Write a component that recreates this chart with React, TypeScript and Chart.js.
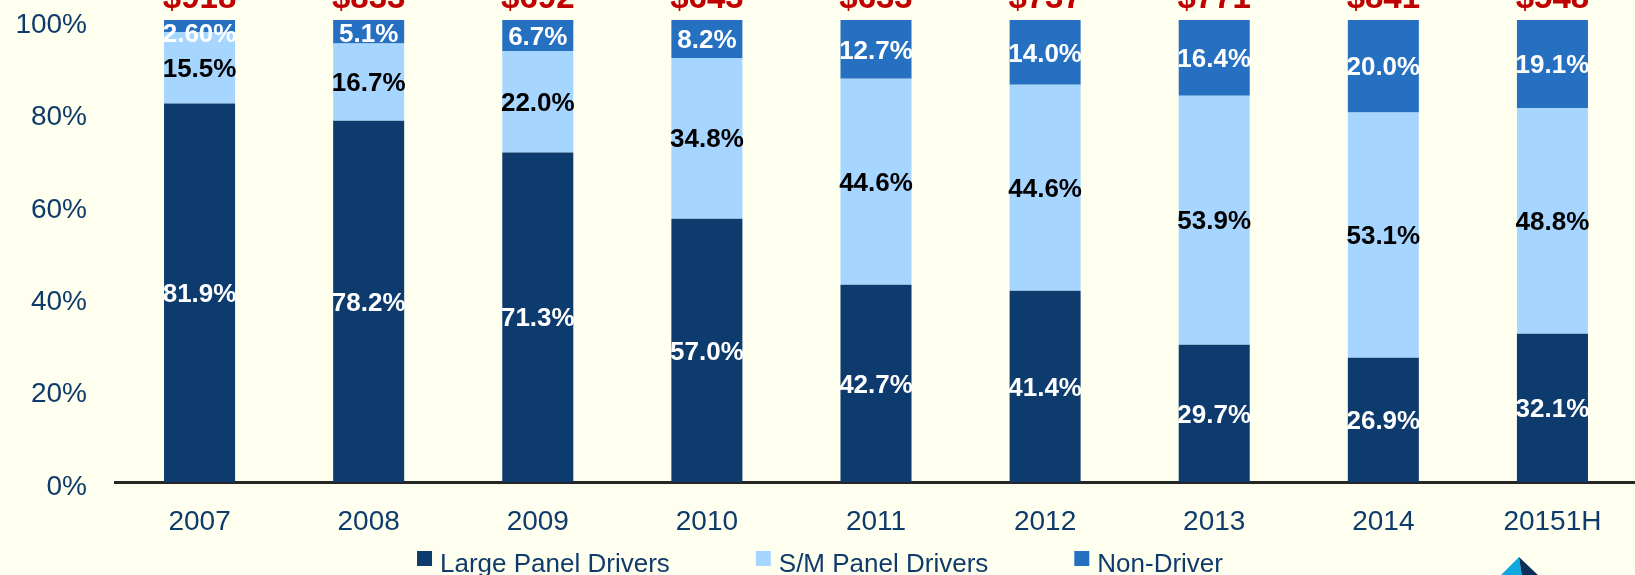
import React, { useEffect, useRef } from 'react';
import { Chart, registerables } from 'chart.js';

Chart.register(...registerables);

// ---- data ----
const categories = ['2007', '2008', '2009', '2010', '2011', '2012', '2013', '2014', '20151H'];
const largePanel = [81.9, 78.2, 71.3, 57.0, 42.7, 41.4, 29.7, 26.9, 32.1];
const smPanel = [15.5, 16.7, 22.0, 34.8, 44.6, 44.6, 53.9, 53.1, 48.8];
const nonDriver = [2.6, 5.1, 6.7, 8.2, 12.7, 14.0, 16.4, 20.0, 19.1];
const nonDriverText = ['2.60%', '5.1%', '6.7%', '8.2%', '12.7%', '14.0%', '16.4%', '20.0%', '19.1%'];
const totals = ['$918', '$833', '$692', '$643', '$633', '$737', '$771', '$841', '$548'];
const seriesNames = ['Large Panel Drivers', 'S/M Panel Drivers', 'Non-Driver'];

// ---- style ----
const NAVY = '#0D3B6E';
const LIGHT = '#A6D6FF';
const MID = '#2670C2';
const BG = '#FFFFF0';
const TEXT = '#0F3B6B';
const RED = '#C00000';
const FONT = '"Liberation Sans", Arial, Helvetica, sans-serif';

const pct1 = (v: number) => v.toFixed(1) + '%';

const segLabels = {
  id: 'segLabels',
  afterDatasetsDraw(chart: any) {
    const ctx = chart.ctx;
    const area = chart.chartArea;
    ctx.save();
    ctx.font = `bold 26px ${FONT}`;
    ctx.textAlign = 'center';
    ctx.textBaseline = 'middle';
    chart.data.datasets.forEach((ds: any, di: number) => {
      const meta = chart.getDatasetMeta(di);
      meta.data.forEach((bar: any, i: number) => {
        const p = bar.getProps(['x', 'y', 'base'], true);
        let cy = (p.y + p.base) / 2 + 2;
        cy = Math.max(cy, area.top + 15);
        ctx.fillStyle = ds.labelColor;
        ctx.fillText(ds.labelText[i], p.x, cy);
      });
    });
    // totals above bars
    ctx.font = `bold 33px ${FONT}`;
    ctx.fillStyle = RED;
    ctx.textBaseline = 'alphabetic';
    const meta0 = chart.getDatasetMeta(0);
    meta0.data.forEach((bar: any, i: number) => {
      ctx.fillText(totals[i], bar.x, area.top - 12);
    });
    ctx.restore();
  },
};

const customLegend = {
  id: 'customLegend',
  afterDraw(chart: any) {
    const ctx = chart.ctx;
    const W = chart.width;
    const H = chart.height;
    ctx.save();
    ctx.font = `26px ${FONT}`;
    ctx.textBaseline = 'alphabetic';
    ctx.textAlign = 'left';
    const box = 15;
    const gapText = 8;
    const gapItem = 86;
    const items = chart.data.datasets.map((ds: any) => ({
      label: ds.label,
      color: ds.backgroundColor,
      w: box + gapText + ctx.measureText(ds.label).width,
    }));
    const total = items.reduce((s: number, it: any) => s + it.w, 0) + gapItem * (items.length - 1);
    let x = W / 2 - total / 2;
    const baseY = H - 3;
    items.forEach((it: any) => {
      ctx.fillStyle = it.color;
      ctx.fillRect(x, baseY - 21, box, box);
      ctx.fillStyle = TEXT;
      ctx.fillText(it.label, x + box + gapText, baseY);
      x += it.w + gapItem;
    });
    // small logo fragment bottom-right
    const ax = 1519, ay = 557;
    ctx.fillStyle = '#10A8E0';
    ctx.beginPath();
    ctx.moveTo(ax, ay);
    ctx.lineTo(ax - 20, H + 2);
    ctx.lineTo(ax + 3, H + 2);
    ctx.closePath();
    ctx.fill();
    ctx.fillStyle = '#0B2F5A';
    ctx.beginPath();
    ctx.moveTo(ax, ay);
    ctx.lineTo(ax + 3, H + 2);
    ctx.lineTo(ax + 21, H + 2);
    ctx.closePath();
    ctx.fill();
    ctx.restore();
  },
};

export default function App() {
  const ref = useRef<HTMLCanvasElement | null>(null);

  useEffect(() => {
    document.body.style.background = BG;
    document.body.style.overflow = 'hidden';
    const canvas = ref.current;
    if (!canvas) return;
    const chart = new Chart(canvas, {
      type: 'bar',
      data: {
        labels: categories,
        datasets: [
          {
            label: seriesNames[0],
            data: largePanel,
            backgroundColor: NAVY,
            labelColor: '#FFFFFF',
            labelText: largePanel.map(pct1),
          } as any,
          {
            label: seriesNames[1],
            data: smPanel,
            backgroundColor: LIGHT,
            labelColor: '#000000',
            labelText: smPanel.map(pct1),
          } as any,
          {
            label: seriesNames[2],
            data: nonDriver,
            backgroundColor: MID,
            labelColor: '#FFFFFF',
            labelText: nonDriverText,
          } as any,
        ],
      },
      options: {
        responsive: false,
        animation: false,
        devicePixelRatio: 1,
        layout: { padding: { top: 20, right: 3, left: 0, bottom: 0 } },
        datasets: { bar: { categoryPercentage: 1, barPercentage: 0.42 } },
        plugins: {
          legend: { display: false },
          tooltip: { enabled: false },
        },
        scales: {
          x: {
            stacked: true,
            grid: { display: false, drawTicks: true, tickLength: 23 },
            border: { display: true, color: '#262626', width: 3 },
            ticks: {
              color: TEXT,
              font: { family: FONT, size: 28 },
              padding: 0,
              maxRotation: 0,
              autoSkip: false,
            },
            afterFit(s: any) {
              s.height = 93;
            },
          },
          y: {
            stacked: true,
            min: 0,
            max: 100,
            grid: { display: false, drawTicks: true, tickLength: 28 },
            border: { display: false },
            ticks: {
              stepSize: 20,
              color: TEXT,
              font: { family: FONT, size: 28 },
              padding: 0,
              labelOffset: 5,
              callback: (v: any) => v + '%',
            },
            afterFit(s: any) {
              s.width = 115;
            },
          },
        },
      },
      plugins: [segLabels, customLegend],
    });
    return () => chart.destroy();
  }, []);

  return (
    <div style={{ position: 'fixed', left: 0, top: 0, width: 1640, height: 575, background: BG }}>
      <canvas ref={ref} width={1640} height={575} style={{ display: 'block' }} />
    </div>
  );
}
